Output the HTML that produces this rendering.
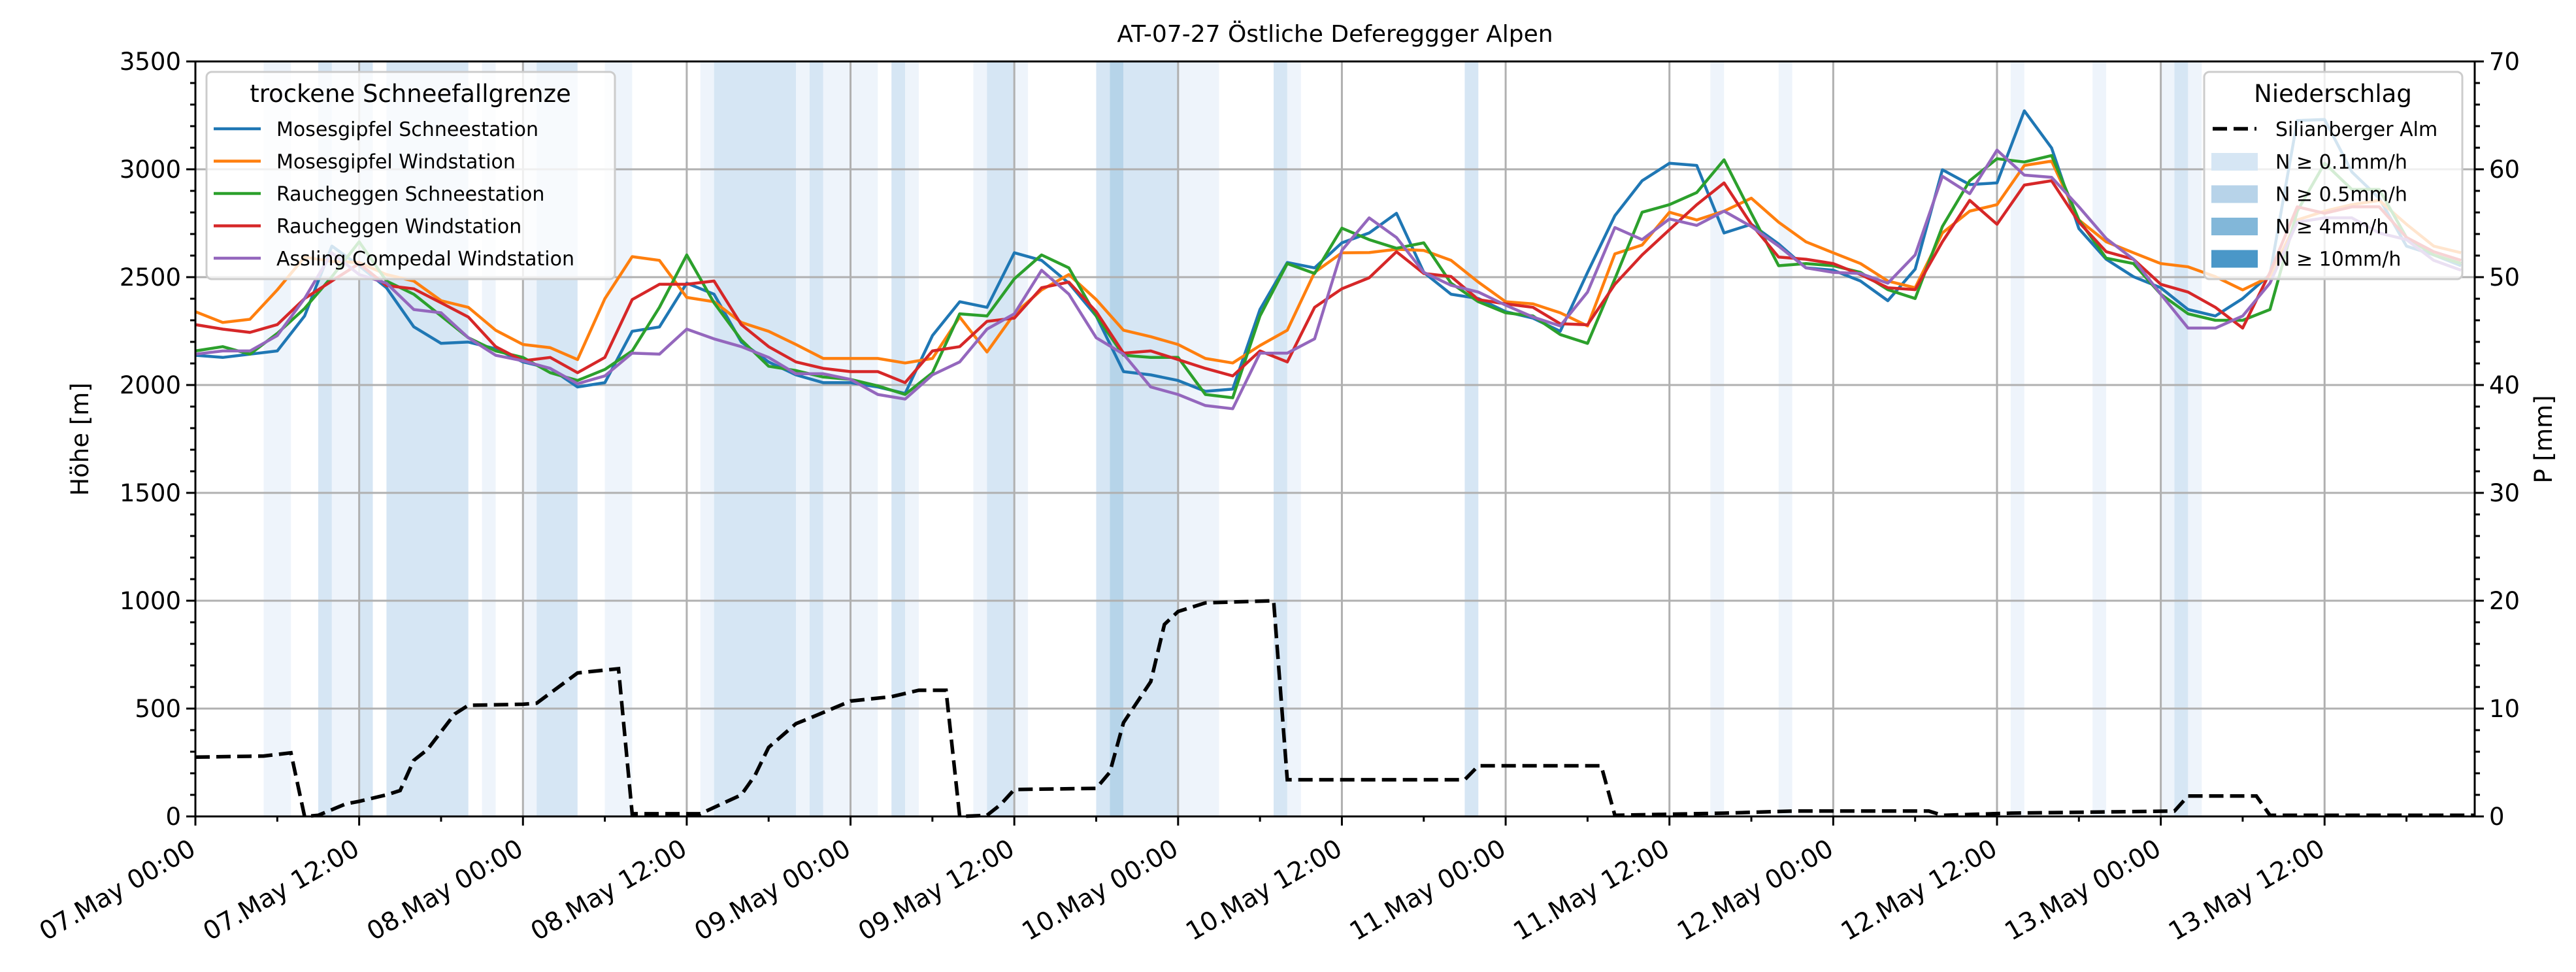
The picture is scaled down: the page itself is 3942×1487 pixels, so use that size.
<!DOCTYPE html>
<html><head><meta charset="utf-8"><style>
html,body{margin:0;padding:0;background:#fff;}
svg{display:block;font-family:"DejaVu Sans","Liberation Sans",sans-serif;}
</style></head><body>
<svg id="chart" width="3942" height="1487" viewBox="0 0 3942 1487" xmlns="http://www.w3.org/2000/svg">
<rect x="0" y="0" width="3942" height="1487" fill="#fff"/>
<g id="bands"></g>
<g id="grid"></g>
<g id="series"></g>
<g id="axes"></g>
<text x="2043" y="64" text-anchor="middle" font-size="36">AT-07-27 Östliche Defereggger Alpen</text>
<text transform="translate(135,672) rotate(-90)" text-anchor="middle" font-size="37">Höhe [m]</text>
<text transform="translate(3905,672) rotate(-90)" text-anchor="middle" font-size="37">P [mm]</text>
<g id="legend1"></g>
<g id="legend2"></g>
</svg>
<script>
const seriesNames = ["Mosesgipfel Schneestation","Mosesgipfel Windstation","Raucheggen Schneestation","Raucheggen Windstation","Assling Compedal Windstation"];
const seriesColors = ["#1f77b4","#ff7f0e","#2ca02c","#d62728","#9467bd"];
const hoursAxis = Array.from({length:84},(_,i)=>2*i);
const mosesSchnee = [2138,2128,2143,2158,2320,2644,2553,2451,2270,2193,2199,2168,2107,2077,1991,2011,2249,2269,2472,2421,2199,2107,
2047,2011,2011,1991,1961,2229,2386,2360,2613,2578,2472,2320,2062,2047,2021,1971,1981,2350,2568,2543,
2659,2705,2796,2522,2421,2401,2340,2310,2249,2522,2785,2947,3028,3018,2705,2745,2654,2543,2532,2482,
2391,2537,2998,2929,2937,3271,3099,2725,2583,2502,2451,2350,2320,2401,2512,3226,3231,2988,2866,2644,2603,2553];
const mosesWind = [2340,2290,2305,2441,2593,2573,2568,2512,2482,2391,2360,2254,2188,2173,2118,2400,2595,2578,2406,2386,2290,2249,
2188,2123,2123,2123,2102,2123,2315,2153,2330,2441,2512,2396,2254,2224,2188,2123,2102,2183,2254,2522,
2613,2614,2629,2624,2578,2477,2386,2376,2335,2274,2608,2649,2801,2765,2806,2866,2755,2664,2613,2563,
2482,2451,2705,2806,2836,3018,3038,2765,2664,2613,2563,2548,2502,2441,2502,2765,2806,2836,2856,2745,2644,2613];
const rauchSchnee = [2158,2178,2143,2239,2355,2502,2664,2482,2421,2320,2219,2158,2128,2057,2021,2072,2158,2360,2603,2381,2209,2087,
2067,2037,2026,1996,1956,2057,2330,2320,2492,2603,2543,2320,2138,2128,2128,1956,1941,2320,2563,2517,
2727,2674,2634,2659,2472,2386,2335,2320,2234,2193,2492,2801,2836,2892,3044,2796,2553,2563,2553,2522,
2442,2401,2735,2947,3049,3034,3064,2765,2588,2563,2421,2330,2300,2300,2350,2806,3028,2907,2907,2684,2603,2563];
const rauchWind = [2280,2259,2244,2280,2401,2482,2563,2461,2446,2381,2315,2178,2112,2128,2057,2128,2396,2467,2467,2482,2280,2178,
2107,2077,2062,2062,2011,2158,2178,2295,2310,2451,2477,2340,2148,2158,2118,2077,2042,2158,2107,2360,
2446,2497,2618,2517,2503,2396,2376,2360,2284,2279,2467,2603,2720,2836,2937,2745,2593,2583,2563,2512,
2451,2442,2664,2856,2745,2927,2947,2755,2618,2583,2467,2431,2360,2264,2522,2826,2796,2826,2826,2684,2618,2578];
const asslingWind = [2143,2158,2158,2229,2401,2613,2512,2472,2350,2335,2219,2138,2112,2077,2006,2042,2148,2143,2259,2214,2178,2128,
2052,2052,2026,1956,1935,2047,2107,2259,2330,2532,2421,2219,2143,1991,1956,1905,1890,2148,2148,2214,
2624,2775,2684,2522,2462,2431,2370,2315,2274,2431,2730,2674,2770,2740,2806,2735,2644,2543,2522,2517,
2472,2603,2968,2887,3089,2973,2963,2826,2679,2583,2421,2264,2264,2320,2472,2755,2775,2775,2705,2674,2578,2532];
const precipHours = [0,5,7,8,9,11,12,14,15,16,17,19,20,24,25,28,31,32,37,40,41,42,44,45,48,51,53,55,56,58,59,60,66,67,68,70,71,72,74,79,80,93,94,103,104,112,117,127,128,133,139,145,146,151,152,167];
const precipMM = [5.5,5.6,5.9,0,0.1,1.15,1.4,2.0,2.4,5.2,6.2,9.5,10.3,10.4,10.5,13.3,13.7,0.25,0.25,2.0,3.8,6.4,8.6,9.1,10.7,11.1,11.7,11.7,0,0.1,1.1,2.5,2.6,4.1,8.7,12.5,17.8,19,19.8,20,3.4,3.4,4.7,4.7,0.1,0.3,0.5,0.5,0.1,0.3,0.4,0.5,1.9,1.9,0.1,0.1];
const bandStart = [5,9,10,12,14,21,24,25,30,37,38,44,45,46,51,52,57,58,60,66,67,68,72,79,80,93,111,116,133,139,144,145,146];
const bandEnd   = [7,10,12,13,20,22,25,28,32,38,44,45,46,50,52,53,58,60,61,67,68,72,75,80,81,94,112,117,134,140,145,146,147];
const bandLevel = [1,2,1,2,2,1,1,2,1,1,2,1,2,1,2,1,1,2,1,2,3,2,1,2,1,2,1,1,1,1,1,2,1];
const yTicks = [0,500,1000,1500,2000,2500,3000,3500];
const y2Ticks = [0,10,20,30,40,50,60,70];
const xTickLabels = ["07.May 00:00","07.May 12:00","08.May 00:00","08.May 12:00","09.May 00:00","09.May 12:00","10.May 00:00","10.May 12:00","11.May 00:00","11.May 12:00","12.May 00:00","12.May 12:00","13.May 00:00","13.May 12:00"];

const NS="http://www.w3.org/2000/svg";
const X0=299,X1=3787,Y0=1249,Y1=94,HMAX=167;
const xs=h=>X0+h*(X1-X0)/HMAX;
const ym=m=>Y0-m*(Y0-Y1)/3500;
const yp=p=>Y0-p*(Y0-Y1)/70;
function mk(tag,attrs,parent){const e=document.createElementNS(NS,tag);for(const k in attrs)e.setAttribute(k,attrs[k]);parent.appendChild(e);return e;}
const bandColors=["","#eef4fb","#d6e6f4","#b6d4e9"];

const gB=document.getElementById('bands');
bandStart.forEach((s,i)=>{
  const r=mk('rect',{x:xs(s),y:Y1,width:xs(bandEnd[i])-xs(s),height:Y0-Y1,fill:bandColors[bandLevel[i]]},gB);
  
  
});

const gG=document.getElementById('grid');
yTicks.forEach(v=>{
  const l=mk('line',{x1:X0,x2:X1,y1:ym(v),y2:ym(v),stroke:"#b0b0b0","stroke-width":3},gG);
  
  
});
xTickLabels.forEach((t,i)=>{
  const l=mk('line',{x1:xs(i*12),x2:xs(i*12),y1:Y1,y2:Y0,stroke:"#b0b0b0","stroke-width":3},gG);
  
  
});

const gS=document.getElementById('series');
const allSeries=[mosesSchnee,mosesWind,rauchSchnee,rauchWind,asslingWind];
allSeries.forEach((arr,si)=>{
  const d=arr.map((v,i)=>(i?'L':'M')+xs(hoursAxis[i]).toFixed(1)+' '+ym(v).toFixed(1)).join(' ');
  const p=mk('path',{d:d,fill:"none",stroke:seriesColors[si],"stroke-width":4.5,"stroke-linejoin":"round"},gS);
  
  
});
const pd=precipMM.map((v,i)=>(i?'L':'M')+xs(precipHours[i]).toFixed(1)+' '+yp(v).toFixed(1)).join(' ');
const pl=mk('path',{d:pd,fill:"none",stroke:"#000","stroke-width":5.5,"stroke-dasharray":"22 10"},gS);



const gA=document.getElementById('axes');
const fr=mk('rect',{x:X0,y:Y1,width:X1-X0,height:Y0-Y1,fill:"none",stroke:"#000","stroke-width":3},gA);


for(let m=0;m<=3500;m+=100){
  const major=m%500===0;
  const l=mk('line',{x1:X0-(major?14:8),x2:X0,y1:ym(m),y2:ym(m),stroke:"#000","stroke-width":3},gA);
  
  
}
yTicks.forEach(v=>{
  const t=mk('text',{x:X0-22,y:ym(v)+13,"text-anchor":"end","font-size":37},gA);
  t.textContent=v;
  
  
});
for(let p=0;p<=70;p+=2){
  const major=p%10===0;
  const l=mk('line',{x1:X1,x2:X1+(major?14:8),y1:yp(p),y2:yp(p),stroke:"#000","stroke-width":3},gA);
  
  
}
y2Ticks.forEach(v=>{
  const t=mk('text',{x:X1+22,y:yp(v)+13,"text-anchor":"start","font-size":37},gA);
  t.textContent=v;
  
  
});
for(let h=0;h<=HMAX;h+=6){
  const major=h%12===0;
  const l=mk('line',{x1:xs(h),x2:xs(h),y1:Y0,y2:Y0+(major?14:8),stroke:"#000","stroke-width":3},gA);
  
  
}
xTickLabels.forEach((s,i)=>{
  const x=xs(i*12)+3,y=1306;
  const t=mk('text',{x:x,y:y,"text-anchor":"end","font-size":39,transform:`rotate(-30 ${x} ${y})`},gA);
  t.textContent=s;
  
  
});

// legend 1
const L1=document.getElementById('legend1');
const b1=mk('rect',{x:316,y:110,width:625,height:317,rx:8,fill:"rgba(255,255,255,0.8)",stroke:"#cccccc","stroke-width":3},L1);


const t1=mk('text',{x:628,y:156,"text-anchor":"middle","font-size":37},L1);
t1.textContent="trockene Schneefallgrenze";


seriesNames.forEach((n,i)=>{
  const y=197+i*49.5;
  const l=mk('line',{x1:327,x2:399,y1:y,y2:y,stroke:seriesColors[i],"stroke-width":4.5},L1);
  
  
  const t=mk('text',{x:423,y:y+11,"font-size":30},L1);
  t.textContent=n;
  
  
});
// legend 2
const L2=document.getElementById('legend2');
const b2=mk('rect',{x:3373,y:110,width:395,height:317,rx:8,fill:"rgba(255,255,255,0.8)",stroke:"#cccccc","stroke-width":3},L2);


const t2=mk('text',{x:3570,y:156,"text-anchor":"middle","font-size":37},L2);
t2.textContent="Niederschlag";


const dl=mk('line',{x1:3386,x2:3453,y1:197,y2:197,stroke:"#000","stroke-width":5.5,"stroke-dasharray":"22 10"},L2);


const dt=mk('text',{x:3482,y:208,"font-size":30},L2);
dt.textContent="Silianberger Alm";


const patchCols=["#d6e6f4","#b7d3e9","#82b7d9","#4a97c8"];
const patchLabels=["N ≥ 0.1mm/h","N ≥ 0.5mm/h","N ≥ 4mm/h","N ≥ 10mm/h"];
patchLabels.forEach((s,i)=>{
  const y=247+i*49.5;
  const r=mk('rect',{x:3384,y:y-13,width:71,height:27,fill:patchCols[i]},L2);
  
  
  const t=mk('text',{x:3482,y:y+11,"font-size":30},L2);
  t.textContent=s;
  
  
});
</script>
</body></html>
